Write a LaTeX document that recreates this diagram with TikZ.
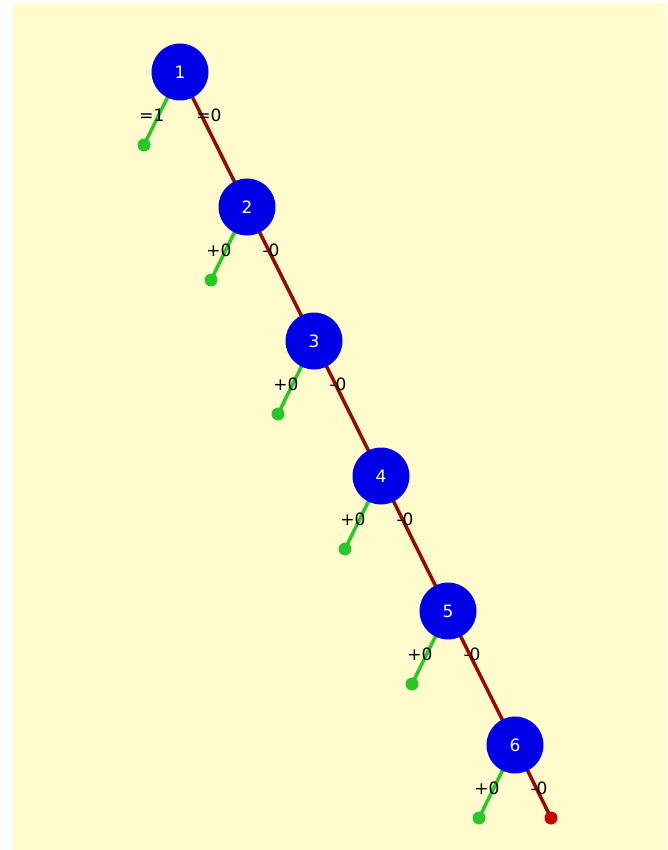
\documentclass[tikz,border=0pt]{standalone}
\usepackage{fontspec}
\setmainfont{DejaVu Sans}
\definecolor{bgc}{RGB}{255,251,205}
\definecolor{nodeblue}{RGB}{0,0,230}
\definecolor{leafgreen}{RGB}{40,200,40}
\definecolor{edgebrown}{RGB}{150,10,0}
\definecolor{leafred}{RGB}{200,0,0}
\begin{document}
\begin{tikzpicture}[x=1pt,y=-1pt,
  tnode/.style={circle,fill=nodeblue,minimum size=57pt,inner sep=0pt,text=white,font=\fontsize{17}{17}\selectfont},
  gdot/.style={circle,fill=leafgreen,minimum size=13pt,inner sep=0pt},
  rdot/.style={circle,fill=leafred,minimum size=13pt,inner sep=0pt},
  gedge/.style={draw=leafgreen,line width=3.5pt},
  redge/.style={draw=edgebrown,line width=3.5pt},
  lbl/.style={font=\fontsize{17}{17}\selectfont,text=black,inner sep=0pt}]
\fill[white] (0,0) rectangle (667,850);
\fill[bgc] (13,3) rectangle (667,850);
\useasboundingbox (0,0) rectangle (667,850);
% coordinates
\foreach \i/\x/\y in {1/180/72,2/247/207,3/314/341,4/381/476,5/448/611,6/515/745}{
  \coordinate (c\i) at (\x,\y);
  \coordinate (g\i) at ({\x-36},{\y+73});
}
\coordinate (r6) at (551,818);
% leaves
\foreach \i in {1,...,6}{
  \draw[gedge] (c\i) -- (g\i);
  \node[gdot] (gd\i) at (g\i) {};
}
\draw[redge] (c1) -- (c2);
\draw[redge] (c2) -- (c3);
\draw[redge] (c3) -- (c4);
\draw[redge] (c4) -- (c5);
\draw[redge] (c5) -- (c6);
\draw[redge] (c6) -- (r6);
\node[rdot] (rd6) at (r6) {};
% labels
\node[lbl] (l1a) at (152,115) {=1};
\node[lbl] (l1b) at (209,115) {=0};
\foreach \i/\x/\y in {2/247/207,3/314/341,4/381/476,5/448/611,6/515/745}{
  \node[lbl] (la\i) at ({\x-28},{\y+43}) {+0};
  \node[lbl] (lb\i) at ({\x+24},{\y+43}) {-0};
}
% tree nodes
\foreach \i in {1,...,6}{
  \node[tnode] (n\i) at (c\i) {\i};
}
\end{tikzpicture}
\end{document}
